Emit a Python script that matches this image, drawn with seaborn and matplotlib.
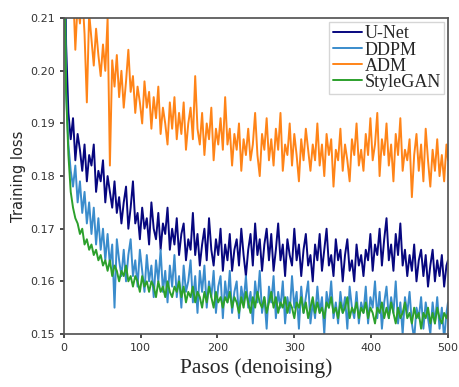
import numpy as np
import pandas as pd
import matplotlib
matplotlib.use("Agg")
import matplotlib.pyplot as plt
import seaborn as sns

# ===================== DATA (every 3 steps) =====================
steps = list(range(0, 499, 3)) + [500]

unet = [
    0.245, 0.205, 0.192, 0.187, 0.191, 0.183, 0.188, 0.185, 0.181, 0.186,
    0.179, 0.184, 0.182, 0.186, 0.177, 0.181, 0.179, 0.183, 0.175, 0.180,
    0.177, 0.174, 0.179, 0.173, 0.176, 0.171, 0.175, 0.178, 0.170, 0.174,
    0.179, 0.171, 0.173, 0.168, 0.174, 0.170, 0.172, 0.167, 0.175, 0.170,
    0.168, 0.173, 0.166, 0.171, 0.169, 0.174, 0.166, 0.170, 0.167, 0.172,
    0.165, 0.169, 0.171, 0.164, 0.168, 0.166, 0.173, 0.165, 0.169, 0.163,
    0.167, 0.170, 0.164, 0.172, 0.166, 0.163, 0.168, 0.165, 0.170, 0.162,
    0.167, 0.164, 0.169, 0.162, 0.166, 0.168, 0.163, 0.170, 0.165, 0.161,
    0.166, 0.169, 0.163, 0.171, 0.165, 0.168, 0.162, 0.167, 0.170, 0.164,
    0.169, 0.162, 0.166, 0.171, 0.164, 0.167, 0.161, 0.168, 0.165, 0.163,
    0.170, 0.164, 0.167, 0.161, 0.166, 0.169, 0.163, 0.165, 0.160, 0.167,
    0.164, 0.169, 0.162, 0.166, 0.170, 0.163, 0.165, 0.161, 0.168, 0.164,
    0.166, 0.160, 0.165, 0.168, 0.162, 0.164, 0.160, 0.167, 0.163, 0.165,
    0.161, 0.166, 0.164, 0.169, 0.162, 0.167, 0.165, 0.170, 0.163, 0.168,
    0.172, 0.164, 0.167, 0.162, 0.169, 0.165, 0.171, 0.163, 0.166, 0.161,
    0.165, 0.162, 0.167, 0.160, 0.164, 0.166, 0.161, 0.165, 0.159, 0.163,
    0.166, 0.160, 0.164, 0.161, 0.165, 0.159, 0.163,
    0.164,
]

ddpm = [
    0.235, 0.196, 0.186, 0.181, 0.178, 0.182, 0.175, 0.179, 0.173, 0.177,
    0.171, 0.175, 0.169, 0.174, 0.167, 0.172, 0.166, 0.170, 0.164, 0.169,
    0.163, 0.167, 0.155, 0.168, 0.164, 0.161, 0.166, 0.160, 0.165, 0.168,
    0.161, 0.164, 0.159, 0.166, 0.162, 0.158, 0.165, 0.160, 0.163, 0.157,
    0.164, 0.160, 0.166, 0.158, 0.162, 0.156, 0.163, 0.159, 0.165, 0.157,
    0.161, 0.155, 0.163, 0.158, 0.160, 0.164, 0.156, 0.161, 0.154, 0.162,
    0.158, 0.163, 0.155, 0.160, 0.157, 0.162, 0.154, 0.159, 0.161, 0.153,
    0.160, 0.156, 0.162, 0.154, 0.158, 0.160, 0.153, 0.159, 0.156, 0.161,
    0.155, 0.158, 0.152, 0.160, 0.156, 0.162, 0.154, 0.157, 0.151, 0.159,
    0.156, 0.161, 0.153, 0.158, 0.155, 0.160, 0.152, 0.157, 0.154, 0.161,
    0.155, 0.158, 0.151, 0.159, 0.154, 0.157, 0.160, 0.152, 0.156, 0.153,
    0.159, 0.154, 0.157, 0.150, 0.158, 0.155, 0.160, 0.153, 0.156, 0.152,
    0.158, 0.154, 0.157, 0.151, 0.159, 0.155, 0.153, 0.158, 0.152, 0.156,
    0.154, 0.159, 0.152, 0.157, 0.155, 0.160, 0.153, 0.158, 0.151, 0.156,
    0.159, 0.153, 0.157, 0.154, 0.160, 0.152, 0.156, 0.150, 0.157, 0.154,
    0.158, 0.152, 0.149, 0.155, 0.153, 0.157, 0.151, 0.156, 0.153, 0.150,
    0.156, 0.152, 0.157, 0.151, 0.155, 0.149, 0.154,
    0.156,
]

adm = [
    0.235, 0.228, 0.218, 0.212, 0.216, 0.204, 0.213, 0.209, 0.215, 0.207,
    0.194, 0.211, 0.206, 0.201, 0.208, 0.203, 0.199, 0.205, 0.200, 0.210,
    0.182, 0.202, 0.197, 0.203, 0.195, 0.200, 0.193, 0.198, 0.204, 0.196,
    0.199, 0.192, 0.197, 0.194, 0.190, 0.198, 0.193, 0.196, 0.189, 0.195,
    0.191, 0.197, 0.188, 0.193, 0.190, 0.186, 0.194, 0.189, 0.195, 0.187,
    0.192, 0.188, 0.194, 0.185, 0.190, 0.193, 0.187, 0.199, 0.189, 0.186,
    0.192, 0.184, 0.190, 0.187, 0.193, 0.183, 0.189, 0.186, 0.191, 0.185,
    0.195, 0.186, 0.189, 0.182, 0.188, 0.185, 0.190, 0.181, 0.187, 0.184,
    0.189, 0.183, 0.186, 0.192, 0.184, 0.180, 0.188, 0.185, 0.191, 0.183,
    0.187, 0.182, 0.189, 0.185, 0.192, 0.181, 0.186, 0.184, 0.190, 0.182,
    0.188, 0.184, 0.179, 0.187, 0.183, 0.189, 0.185, 0.181, 0.186, 0.183,
    0.190, 0.182, 0.186, 0.180, 0.188, 0.184, 0.187, 0.178, 0.185, 0.183,
    0.189, 0.181, 0.186, 0.183, 0.179, 0.187, 0.184, 0.190, 0.182, 0.185,
    0.181, 0.188, 0.184, 0.191, 0.183, 0.186, 0.192, 0.180, 0.187, 0.184,
    0.190, 0.182, 0.186, 0.179, 0.188, 0.184, 0.191, 0.181, 0.185, 0.183,
    0.187, 0.176, 0.184, 0.188, 0.181, 0.186, 0.179, 0.189, 0.183, 0.178,
    0.185, 0.181, 0.187, 0.180, 0.184, 0.179, 0.186,
    0.183,
]

stylegan = [
    0.230, 0.196, 0.184, 0.177, 0.174, 0.172, 0.171, 0.169, 0.170, 0.167,
    0.168, 0.166, 0.167, 0.165, 0.166, 0.164, 0.165, 0.163, 0.164, 0.162,
    0.164, 0.161, 0.163, 0.162, 0.160, 0.162, 0.161, 0.163, 0.160, 0.161,
    0.159, 0.161, 0.160, 0.158, 0.161, 0.159, 0.160, 0.158, 0.160, 0.159,
    0.157, 0.160, 0.158, 0.159, 0.157, 0.160, 0.158, 0.157, 0.159, 0.158,
    0.160, 0.157, 0.159, 0.156, 0.158, 0.157, 0.159, 0.156, 0.158, 0.157,
    0.155, 0.158, 0.156, 0.159, 0.157, 0.155, 0.158, 0.156, 0.157, 0.155,
    0.157, 0.156, 0.158, 0.155, 0.157, 0.156, 0.154, 0.157, 0.155, 0.158,
    0.156, 0.154, 0.157, 0.155, 0.158, 0.156, 0.155, 0.157, 0.154, 0.156,
    0.158, 0.155, 0.157, 0.154, 0.156, 0.155, 0.157, 0.154, 0.156, 0.155,
    0.153, 0.156, 0.155, 0.157, 0.154, 0.156, 0.153, 0.155, 0.157, 0.154,
    0.156, 0.154, 0.155, 0.153, 0.156, 0.155, 0.157, 0.154, 0.155, 0.153,
    0.156, 0.154, 0.155, 0.157, 0.153, 0.155, 0.154, 0.156, 0.153, 0.155,
    0.154, 0.156, 0.153, 0.155, 0.154, 0.152, 0.155, 0.154, 0.156, 0.153,
    0.155, 0.153, 0.156, 0.154, 0.152, 0.155, 0.153, 0.154, 0.156, 0.153,
    0.154, 0.152, 0.155, 0.153, 0.154, 0.151, 0.154, 0.153, 0.155, 0.152,
    0.154, 0.152, 0.155, 0.153, 0.152, 0.154, 0.153,
    0.154,
]

models = ["U-Net", "DDPM", "ADM", "StyleGAN"]
colors = ["#07077f", "#3a8ccc", "#ff8418", "#2ca02c"]

# ===================== LONG FORMAT =====================
df = pd.concat([
    pd.DataFrame({"step": steps, "loss": vals, "model": name})
    for name, vals in zip(models, [unet, ddpm, adm, stylegan])
], ignore_index=True)

# ===================== PLOT =====================
sns.set_theme(style="ticks")
fig, ax = plt.subplots(figsize=(4.59, 3.87), dpi=100)
fig.subplots_adjust(left=0.139, right=0.976, top=0.953, bottom=0.137)

sns.lineplot(data=df, x="step", y="loss", hue="model", hue_order=models,
             palette=colors, linewidth=1.4, ax=ax)

ax.set_xlim(0, 500)
ax.set_ylim(0.15, 0.21)
ax.set_xticks([0, 100, 200, 300, 400, 500])
ax.set_yticks([0.15, 0.16, 0.17, 0.18, 0.19, 0.20, 0.21])
ax.yaxis.set_major_formatter(matplotlib.ticker.FormatStrFormatter("%.2f"))
ax.tick_params(labelsize=8, colors="#333333", length=3)
for s in ax.spines.values():
    s.set_color("#555555")
    s.set_visible(True)

ax.set_ylabel("Training loss", fontsize=10.5, labelpad=3)
ax.set_xlabel("Pasos (denoising)", fontsize=15.5, family="Liberation Serif", labelpad=4)

leg = ax.legend(loc="upper right", prop={"family": "Liberation Serif", "size": 13},
                labelspacing=-0.05, handlelength=1.6, handletextpad=0.15,
                borderpad=0.2, frameon=True, fancybox=False, borderaxespad=0.2)
leg.get_frame().set_edgecolor("#cccccc")

fig.savefig("out.png", dpi=100)
